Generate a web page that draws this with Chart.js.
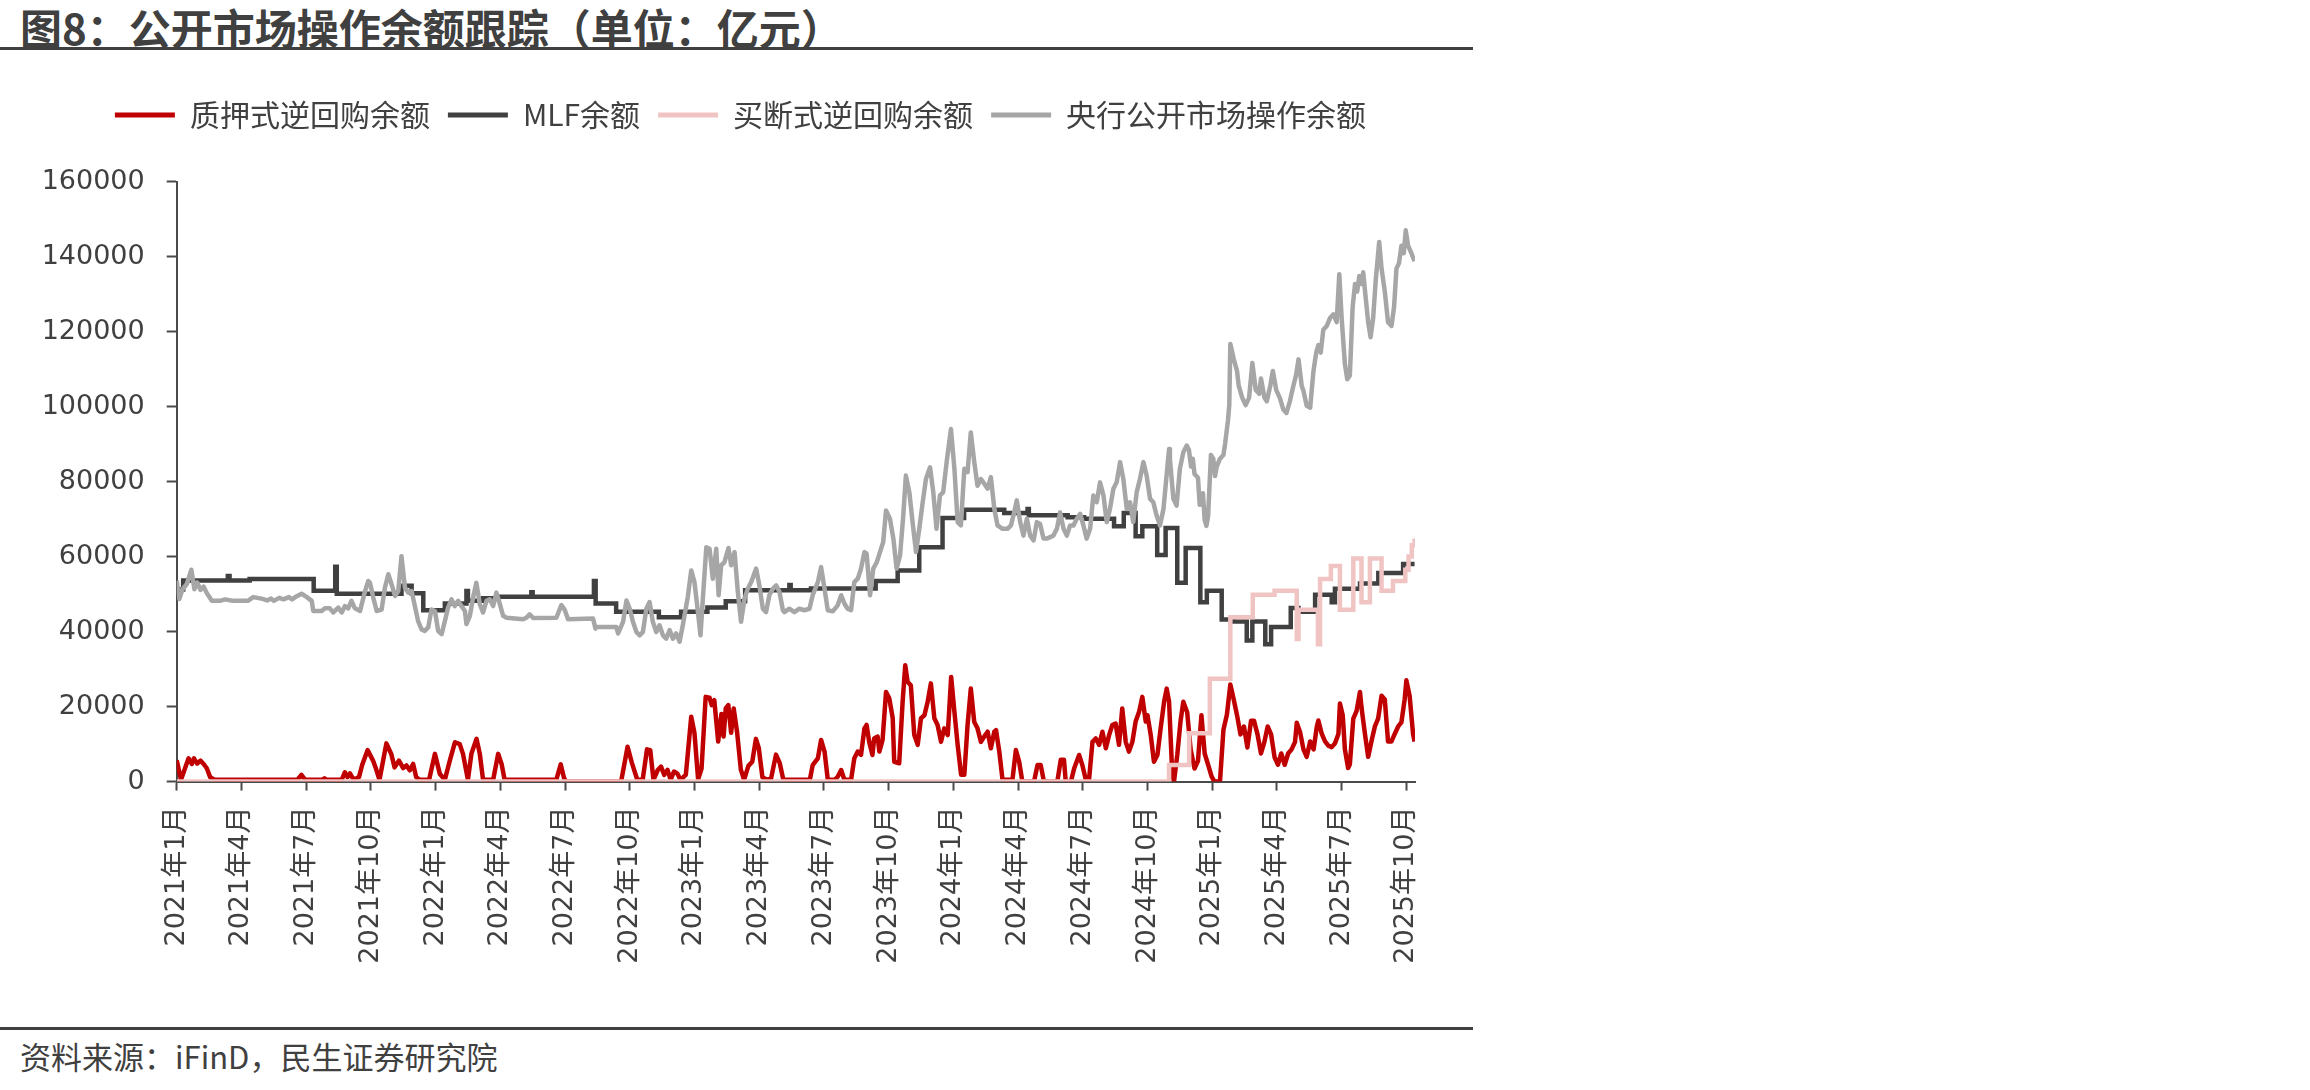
<!DOCTYPE html>
<html lang="zh-CN">
<head>
<meta charset="utf-8">
<title>公开市场操作余额跟踪</title>
<script src="https://cdn.jsdelivr.net/npm/chart.js@4.4.1/dist/chart.umd.min.js"></script>
<style>
  html, body { margin: 0; padding: 0; background: #fff; }
  body { width: 2310px; height: 1090px; position: relative; overflow: hidden;
         font-family: "Noto Sans CJK SC", sans-serif; color: #404040; }
  .title { position: absolute; left: 20px; top: 4px; font-size: 42px; line-height: 46px; font-weight: bold; white-space: nowrap; }
  .rule { position: absolute; left: 0; width: 1473px; height: 3px; background: #404040; }
  .source { position: absolute; left: 20px; top: 1038px; font-size: 31px; line-height: 36px; white-space: nowrap; }
  #wrap { position: absolute; left: 0; top: 60px; }
</style>
</head>
<body>
<div class="title">图8：公开市场操作余额跟踪（单位：亿元）</div>
<div class="rule" style="top:47px"></div>
<div id="wrap"><canvas id="chart" width="1480" height="930"></canvas></div>
<div class="rule" style="top:1027px"></div>
<div class="source">资料来源：iFinD，民生证券研究院</div>
<script>
// x = months since 2021-01 (0 = 2021年1月)
const tickLabels = [
  '2021年1月', '2021年4月', '2021年7月', '2021年10月',
  '2022年1月', '2022年4月', '2022年7月', '2022年10月',
  '2023年1月', '2023年4月', '2023年7月', '2023年10月',
  '2024年1月', '2024年4月', '2024年7月', '2024年10月',
  '2025年1月', '2025年4月', '2025年7月', '2025年10月'
];

// 质押式逆回购余额 (亿元)
const repoMonths = [
  0, 0.2, 0.55, 0.7, 0.8, 0.95, 1.1, 1.25, 1.4, 1.55,
  1.75, 5.6, 5.78, 5.95, 6.75, 6.85, 6.95, 7.65, 7.8, 7.92,
  8.03, 8.2, 8.45, 8.6, 8.85, 9.1, 9.25, 9.4, 9.72, 9.95,
  10.1, 10.3, 10.5, 10.65, 10.8, 10.96, 11.1, 11.25, 11.7, 11.97,
  12.2, 12.43, 12.66, 12.9, 13.12, 13.27, 13.5, 13.66, 13.9, 14.05,
  14.2, 14.67, 14.9, 15.06, 15.2, 17.6, 17.8, 17.95, 18.05, 20.6,
  20.9, 21.1, 21.35, 21.6, 21.8, 21.95, 22.1, 22.3, 22.45, 22.6,
  22.75, 22.9, 23.05, 23.2, 23.35, 23.6, 23.85, 24.0, 24.17, 24.33,
  24.52, 24.7, 24.8, 24.92, 25.1, 25.25, 25.35, 25.45, 25.57, 25.7,
  25.82, 25.98, 26.15, 26.3, 26.5, 26.68, 26.85, 26.98, 27.15, 27.35,
  27.55, 27.78, 27.95, 28.12, 29.35, 29.48, 29.72, 29.87, 30.03, 30.18,
  30.5, 30.64, 30.8, 30.95, 31.26, 31.41, 31.57, 31.72, 31.88, 31.98,
  32.1, 32.25, 32.33, 32.49, 32.57, 32.72, 32.88, 33.03, 33.19, 33.26,
  33.49, 33.65, 33.77, 33.88, 34.03, 34.19, 34.35, 34.5, 34.66, 34.81,
  34.96, 35.12, 35.27, 35.43, 35.58, 35.74, 35.9, 36.05, 36.2, 36.36,
  36.51, 36.66, 36.81, 36.97, 37.12, 37.28, 37.43, 37.59, 37.74, 37.9,
  37.98, 38.13, 38.28, 38.74, 38.9, 39.05, 39.2, 39.74, 39.9, 40.05,
  40.2, 40.82, 40.98, 41.13, 41.21, 41.45, 41.6, 41.83, 41.98, 42.14,
  42.29, 42.45, 42.6, 42.76, 42.91, 43.07, 43.22, 43.37, 43.52, 43.68,
  43.83, 43.99, 44.14, 44.3, 44.45, 44.61, 44.76, 44.92, 45.0, 45.15,
  45.3, 45.46, 45.61, 45.77, 45.89, 46.0, 46.15, 46.23, 46.38, 46.53,
  46.66, 46.84, 47.0, 47.18, 47.34, 47.5, 47.65, 47.81, 47.97, 48.1,
  48.36, 48.52, 48.68, 48.84, 49.0, 49.15, 49.31, 49.47, 49.63, 49.8,
  49.94, 50.1, 50.26, 50.42, 50.57, 50.73, 50.89, 51.05, 51.2, 51.36,
  51.52, 51.68, 51.84, 51.92, 52.08, 52.23, 52.38, 52.54, 52.7, 52.85,
  52.92, 53.08, 53.23, 53.38, 53.54, 53.69, 53.85, 53.92, 54.05, 54.15,
  54.3, 54.38, 54.54, 54.69, 54.85, 54.92, 55.08, 55.23, 55.38, 55.54,
  55.69, 55.85, 56.0, 56.15, 56.31, 56.46, 56.62, 56.77, 56.92, 57.0,
  57.15, 57.31, 57.38
];
const repoValues = [
  5700, 500, 6200, 4700, 6200, 4800, 5600, 4700, 3500, 1200,
  500, 500, 1800, 500, 500, 900, 500, 500, 2500, 1200,
  2200, 500, 1200, 4500, 8400, 5600, 3200, 500, 10200, 7300,
  3800, 5600, 3600, 4300, 3000, 4700, 1200, 500, 500, 7400,
  2000, 500, 5600, 10500, 10000, 7400, 500, 7400, 11400, 7400,
  500, 500, 7400, 4700, 500, 500, 4600, 1000, 0, 0,
  9300, 5000, 500, 500, 8600, 8400, 500, 3100, 4000, 1800,
  3100, 500, 2700, 2200, 500, 1800, 17300, 13000, 600, 3500,
  22600, 22400, 20400, 21700, 10700, 18000, 12000, 19500, 20400, 13000,
  19500, 13000, 3200, 500, 4200, 5300, 11400, 9000, 1200, 500,
  800, 7200, 5000, 500, 500, 4400, 6200, 11100, 8000, 500,
  500, 1300, 3100, 500, 500, 6200, 8000, 7100, 14200, 15100,
  10600, 7100, 11500, 12000, 8000, 11100, 23900, 22200, 16900, 5300,
  4900, 21300, 31000, 26600, 25700, 12400, 9800, 16900, 17700, 21300,
  26200, 16900, 15100, 10600, 14200, 12400, 27900, 18600, 9800, 1800,
  1800, 15100, 24800, 15900, 14200, 10600, 12000, 13300, 8900, 13300,
  13700, 8000, 500, 500, 8400, 5300, 0, 0, 4400, 4400,
  0, 0, 5800, 5800, 0, 0, 3500, 7100, 4400, 500,
  500, 10600, 11500, 9800, 13300, 8900, 12400, 15100, 15500, 9800,
  19500, 10600, 8000, 10600, 16000, 18600, 22600, 16000, 17700, 12400,
  5300, 7100, 14200, 21300, 24800, 21300, 1800, 0, 7100, 16000,
  21300, 18500, 8600, 3500, 5500, 17700, 7500, 4500, 1400, 0,
  0, 13800, 17800, 25900, 21800, 17700, 12600, 14700, 9100, 16200,
  16200, 12600, 7500, 10600, 14700, 12600, 6500, 4500, 7500, 4500,
  7500, 8600, 10600, 15700, 13000, 8600, 6600, 10700, 8600, 14700,
  16300, 12700, 10700, 9600, 9200, 10200, 12700, 20800, 17700, 8600,
  3600, 4600, 16800, 18800, 23900, 19800, 12700, 6600, 10700, 14700,
  16800, 22900, 21900, 10700, 10700, 12700, 14700, 15800, 21900, 27000,
  22900, 12700, 10700
];

// MLF余额: level changes (stepped)
const mlfMonths = [
  0, 0.3, 2.37, 2.45, 3.38, 6.35, 7.35, 7.42, 10.42, 10.89,
  11.43, 12.43, 13.43, 13.5, 14.21, 14.82, 16.44, 16.5, 19.34, 19.42,
  20.37, 22.35, 23.38, 24.6, 25.45, 26.35, 28.4, 28.46, 29.4, 32.4,
  33.42, 34.42, 35.5, 36.5, 38.36, 39.44, 39.5, 41.3, 42.06, 43.45,
  43.9, 44.45, 44.76, 45.45, 45.84, 46.38, 46.77, 47.45, 47.75, 48.44,
  49.0, 49.6, 49.86, 50.46, 50.73, 51.64, 52.0, 52.77, 53.54, 53.69,
  54.85, 55.7, 56.85, 57.38
];
const mlfValues = [
  51200, 53600, 54800, 53600, 54000, 50900, 57300, 50100, 52200, 50200,
  45700, 47500, 50800, 48200, 48900, 49300, 50500, 49300, 53500, 47500,
  45300, 43800, 45300, 46400, 48100, 51000, 52400, 51000, 51500, 53500,
  56300, 62500, 70300, 72500, 71600, 72700, 71000, 70500, 70100, 68100,
  71600, 65400, 68100, 60400, 67600, 53000, 62300, 47800, 50900, 43200,
  42700, 37600, 42700, 36600, 41200, 46300, 45300, 49800, 47800, 51400,
  52800, 55600, 58000, 58000
];

// 买断式逆回购余额: level changes (stepped)
const outrightMonths = [
  0, 46.0, 46.93, 47.89, 48.84, 49.88, 50.89, 51.92, 52.0, 52.9,
  53.0, 53.5, 53.92, 54.54, 54.92, 55.31, 55.85, 56.38, 56.95, 57.1,
  57.25, 57.38
];
const outrightValues = [
  0, 4400, 12900, 27400, 43800, 49800, 50900, 38000, 45800, 36600,
  54000, 57500, 45800, 59500, 47800, 59500, 50900, 53500, 56500, 60000,
  63000, 64800
];

// 央行公开市场操作余额
const omoMonths = [
  0, 0.12, 0.27, 0.47, 0.68, 0.82, 0.95, 1.1, 1.25, 1.4,
  1.63, 2.0, 2.25, 2.6, 3.3, 3.55, 3.93, 4.2, 4.37, 4.5,
  4.75, 4.95, 5.2, 5.35, 5.5, 5.79, 6.03, 6.26, 6.33, 6.72,
  6.87, 7.1, 7.26, 7.49, 7.65, 7.8, 7.95, 8.1, 8.26, 8.5,
  8.73, 8.88, 8.96, 9.11, 9.27, 9.5, 9.65, 9.81, 9.96, 10.12,
  10.27, 10.42, 10.58, 10.73, 10.89, 11.04, 11.19, 11.35, 11.5, 11.66,
  11.81, 11.97, 12.12, 12.28, 12.43, 12.58, 12.74, 12.89, 13.05, 13.2,
  13.36, 13.43, 13.59, 13.74, 13.89, 14.05, 14.2, 14.36, 14.51, 14.67,
  14.82, 14.98, 15.13, 15.29, 16.06, 16.21, 16.36, 16.52, 17.6, 17.83,
  17.98, 18.14, 19.3, 19.41, 19.45, 20.38, 20.46, 20.69, 20.85, 21.0,
  21.15, 21.31, 21.46, 21.61, 21.77, 21.92, 22.07, 22.23, 22.38, 22.54,
  22.69, 22.85, 23.0, 23.15, 23.31, 23.46, 23.69, 23.85, 24.0, 24.16,
  24.28, 24.39, 24.55, 24.7, 24.85, 25.01, 25.12, 25.24, 25.39, 25.58,
  25.7, 25.86, 26.01, 26.16, 26.32, 26.47, 26.63, 26.86, 27.01, 27.17,
  27.32, 27.47, 27.63, 27.79, 27.94, 28.1, 28.17, 28.4, 28.63, 28.86,
  29.1, 29.33, 29.48, 29.72, 29.87, 30.03, 30.18, 30.41, 30.64, 30.8,
  30.95, 31.1, 31.26, 31.41, 31.57, 31.72, 31.88, 31.98, 32.14, 32.29,
  32.45, 32.6, 32.75, 32.88, 33.06, 33.22, 33.37, 33.53, 33.68, 33.8,
  33.96, 34.11, 34.27, 34.42, 34.58, 34.73, 34.92, 35.07, 35.22, 35.38,
  35.53, 35.69, 35.89, 36.05, 36.2, 36.35, 36.51, 36.66, 36.81, 36.97,
  37.12, 37.28, 37.43, 37.59, 37.74, 37.9, 38.05, 38.28, 38.51, 38.67,
  38.82, 38.94, 39.1, 39.25, 39.41, 39.56, 39.72, 39.87, 40.02, 40.18,
  40.33, 40.49, 40.64, 40.8, 40.95, 41.11, 41.26, 41.41, 41.57, 41.72,
  41.88, 42.03, 42.18, 42.34, 42.49, 42.65, 42.8, 42.96, 43.11, 43.26,
  43.42, 43.57, 43.73, 43.88, 44.04, 44.19, 44.34, 44.5, 44.65, 44.81,
  44.96, 45.12, 45.27, 45.42, 45.58, 45.74, 46.0, 46.04, 46.2, 46.35,
  46.5, 46.66, 46.82, 46.92, 47.02, 47.1, 47.18, 47.34, 47.42, 47.57,
  47.65, 47.73, 47.81, 47.94, 48.05, 48.13, 48.21, 48.36, 48.52, 48.6,
  48.73, 48.79, 48.84, 49.0, 49.15, 49.23, 49.39, 49.55, 49.71, 49.86,
  50.02, 50.18, 50.26, 50.42, 50.53, 50.69, 50.81, 50.97, 51.13, 51.29,
  51.44, 51.6, 51.76, 51.89, 52.0, 52.15, 52.23, 52.38, 52.54, 52.69,
  52.82, 52.92, 53.03, 53.15, 53.31, 53.46, 53.62, 53.77, 53.89, 54.0,
  54.15, 54.26, 54.38, 54.51, 54.62, 54.72, 54.82, 54.92, 55.0, 55.12,
  55.23, 55.34, 55.46, 55.58, 55.74, 55.85, 56.0, 56.15, 56.31, 56.43,
  56.54, 56.66, 56.77, 56.88, 56.97, 57.08, 57.23, 57.38
];
const omoValues = [
  53600, 48700, 51300, 52700, 56500, 51300, 53100, 51100, 52000, 50200,
  48200, 48200, 48600, 48200, 48200, 49200, 48800, 48300, 48800, 48200,
  49000, 48600, 49200, 48600, 49200, 50100, 49200, 48200, 45500, 45500,
  46200, 46200, 45100, 46400, 45100, 46800, 46200, 48200, 46200, 45500,
  50800, 53500, 53000, 49100, 45500, 45900, 51700, 55300, 52600, 49500,
  50800, 60100, 51700, 50400, 50800, 46800, 42800, 40600, 40200, 41100,
  45900, 45500, 40200, 39300, 42800, 46400, 48600, 46800, 48200, 46800,
  45500, 42000, 44200, 49100, 53000, 47300, 45100, 48200, 48600, 46800,
  50400, 47300, 44200, 43700, 43300, 43700, 44600, 43600, 43700, 47100,
  45900, 43300, 43500, 40800, 41200, 41200, 39500, 42600, 48300, 46100,
  42600, 39900, 39000, 39900, 46100, 47900, 42600, 39900, 41700, 39000,
  38100, 40400, 38100, 39500, 37300, 41700, 49200, 56300, 53200, 45200,
  39000, 48800, 62500, 62100, 54100, 62100, 49700, 57700, 58500, 62300,
  57700, 61200, 50600, 42600, 48800, 51400, 53200, 56800, 52300, 46100,
  45200, 49700, 51400, 52300, 50600, 45700, 45200, 46100, 45200, 46100,
  45700, 46100, 49700, 53200, 57200, 51400, 45700, 45400, 47000, 49700,
  47500, 46100, 45700, 53200, 54100, 56800, 61200, 60800, 49700, 56800,
  58500, 61200, 63900, 72300, 70100, 64800, 56800, 60300, 71000, 81600,
  77200, 69200, 61200, 67400, 74500, 80700, 83800, 77200, 67400, 76300,
  77200, 85200, 94000, 83400, 69200, 68300, 83400, 82500, 93100, 85200,
  78900, 80700, 79500, 78100, 81200, 72700, 68300, 67400, 67400, 68300,
  71800, 75000, 69200, 65600, 70100, 65600, 64300, 69200, 68700, 64800,
  64800, 65200, 65600, 67400, 71800, 67400, 65600, 68300, 68300, 70100,
  71400, 68300, 64800, 67400, 76300, 74500, 79800, 76300, 69200, 72700,
  78100, 79800, 85200, 80700, 72700, 74500, 69200, 77200, 80700, 85200,
  81600, 75400, 74500, 71000, 68300, 72700, 88700, 86000, 75400, 73600,
  83400, 87800, 89600, 88500, 84000, 86100, 82000, 81000, 73800, 76900,
  69800, 68200, 70800, 87100, 86100, 81500, 84000, 86100, 87100, 90200,
  96300, 100400, 116700, 112600, 109500, 105500, 102400, 100400, 102400, 111600,
  104400, 103400, 107500, 102400, 101400, 105500, 109500, 104400, 102400, 99300,
  98300, 101400, 105500, 108500, 112600, 105500, 104200, 100200, 99700, 109300,
  114400, 116400, 114400, 120500, 121500, 123600, 124600, 122500, 135300, 123600,
  111400, 107300, 108300, 126600, 132700, 130700, 134800, 132700, 135800, 128700,
  122500, 118500, 123600, 133700, 143900, 136800, 130700, 122500, 121500, 126600,
  136800, 138300, 142900, 140900, 147000, 142900, 140900, 138800
];

const textColor = '#404040';
const axisColor = '#4a4a4a';
const tickFont = { family: '"DejaVu Sans", "Noto Sans CJK SC", sans-serif', size: 27 };

const toPoints = (xs, ys) => {
  if (xs.length !== ys.length) console.warn('length mismatch', xs.length, ys.length);
  return xs.map((x, i) => ({ x, y: ys[i] }));
};

// room between legend and plot, and legend centred like the original
const legendTweak = {
  id: 'legendTweak',
  beforeInit(chart) {
    const fit = chart.legend.fit;
    chart.legend.fit = function () {
      fit.call(this);
      this.height += 41.6;
    };
  },
  afterLayout(chart) {
    chart.legend.left += 18;
    chart.legend.right += 18;
  }
};

new Chart(document.getElementById('chart'), {
  type: 'line',
  data: {
    datasets: [
      {
        label: '质押式逆回购余额',
        data: toPoints(repoMonths, repoValues),
        borderColor: '#C00000',
        borderWidth: 4.5,
        borderJoinStyle: 'round',
        pointRadius: 0,
        order: 3
      },
      {
        label: 'MLF余额',
        data: toPoints(mlfMonths, mlfValues),
        stepped: 'before',
        borderColor: '#404040',
        borderWidth: 4.5,
        pointRadius: 0,
        order: 2
      },
      {
        label: '买断式逆回购余额',
        data: toPoints(outrightMonths, outrightValues),
        stepped: 'before',
        borderColor: '#F1C4C4',
        borderWidth: 4.5,
        pointRadius: 0,
        order: 1
      },
      {
        label: '央行公开市场操作余额',
        data: toPoints(omoMonths, omoValues),
        borderColor: '#A6A6A6',
        borderWidth: 4.5,
        borderJoinStyle: 'round',
        pointRadius: 0,
        order: 0
      }
    ]
  },
  options: {
    responsive: false,
    animation: false,
    layout: { padding: { left: 30, right: 65, top: 22, bottom: 8.4 } },
    scales: {
      x: {
        type: 'linear',
        min: 0,
        max: 57.4,
        ticks: {
          stepSize: 3,
          includeBounds: false,
          autoSkip: false,
          minRotation: 90,
          maxRotation: 90,
          padding: 16,
          color: textColor,
          font: tickFont,
          callback: v => tickLabels[Math.round(v / 3)] || ''
        },
        grid: { drawOnChartArea: false, tickLength: 9, tickColor: axisColor, tickWidth: 2 },
        border: { color: axisColor, width: 2 },
        afterFit: s => { s.height = 200; }
      },
      y: {
        min: 0,
        max: 160000,
        ticks: {
          stepSize: 20000,
          padding: 22,
          color: textColor,
          font: tickFont,
          callback: v => String(v)
        },
        grid: { drawOnChartArea: false, tickLength: 10, tickColor: axisColor, tickWidth: 2 },
        border: { color: axisColor, width: 2 },
        afterFit: s => { s.width = 146.7; }
      }
    },
    plugins: {
      legend: {
        labels: {
          boxWidth: 60,
          boxHeight: 5,
          padding: 18,
          color: textColor,
          font: { family: '"Noto Sans CJK SC", "DejaVu Sans", sans-serif', size: 30 },
          sort: (a, b) => a.datasetIndex - b.datasetIndex,
          generateLabels: chart => Chart.defaults.plugins.legend.labels.generateLabels(chart)
            .map(item => ({ ...item, fillStyle: item.strokeStyle, lineWidth: 0 }))
        }
      },
      tooltip: { enabled: false }
    }
  },
  plugins: [legendTweak]
});
</script>
</body>
</html>
